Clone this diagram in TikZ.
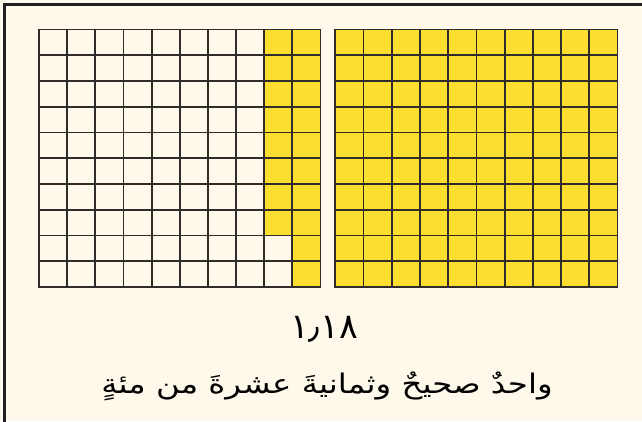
\documentclass[tikz,border=0pt]{standalone}
\usepackage{fontspec}
\newfontfamily\arabicfont[Script=Arabic]{DejaVu Sans}
\TeXXeTstate=1
\definecolor{bgcream}{HTML}{FFF9EC}
\definecolor{cellyellow}{HTML}{FCDE2E}
\definecolor{gridgray}{HTML}{2F2C29}
\definecolor{framedark}{HTML}{231F20}
\tikzset{
  gridline/.style={draw=gridgray, line width=1.8pt, line cap=rect},
  framestroke/.style={draw=framedark, line width=3pt},
  filledcell/.style={fill=cellyellow},
  numtext/.style={font=\arabicfont\fontsize{35}{40}\selectfont, text=black, inner sep=0pt},
  wordtext/.style={font=\arabicfont\fontsize{27}{32}\selectfont, text=black, inner sep=0pt, anchor=base},
}
\begin{document}
\begin{tikzpicture}[x=1pt,y=-1pt]
\fill[bgcream] (0,0) rectangle (642,421);
\useasboundingbox (0,0) rectangle (642,421);
\begin{scope}
\clip (0,0) rectangle (642,421);
\draw[framestroke] (4.5,440) -- (4.5,4.5) -- (660,4.5);
\end{scope}
% grid 1: 18 hundredths
\def\cw{28.15}
\def\ch{25.75}
\foreach \j in {0,...,9}{
  \fill[filledcell] (39+9*\cw,29.5+\j*\ch) rectangle ++(\cw,\ch);
}
\foreach \j in {0,...,7}{
  \fill[filledcell] (39+8*\cw,29.5+\j*\ch) rectangle ++(\cw,\ch);
}
\foreach \k in {0,...,10}{
  \draw[gridline] (39+\k*\cw,29.5) -- (39+\k*\cw,287);
  \draw[gridline] (39,29.5+\k*\ch) -- (320.5,29.5+\k*\ch);
}
% grid 2: one whole
\fill[filledcell] (335.3,29.5) rectangle (617.5,287);
\foreach \k in {0,...,10}{
  \draw[gridline] (335.3+\k*28.22,29.5) -- (335.3+\k*28.22,287);
  \draw[gridline] (335.3,29.5+\k*\ch) -- (617.5,29.5+\k*\ch);
}
\node[numtext] (num) at (324,329) {١٫١٨};
\node[wordtext] (words) at (327,393) {\scalebox{1.2}[1]{\beginR واحدٌ صحيحٌ وثمانيةَ عشرةَ من مئةٍ\endR}};
\end{tikzpicture}
\end{document}
